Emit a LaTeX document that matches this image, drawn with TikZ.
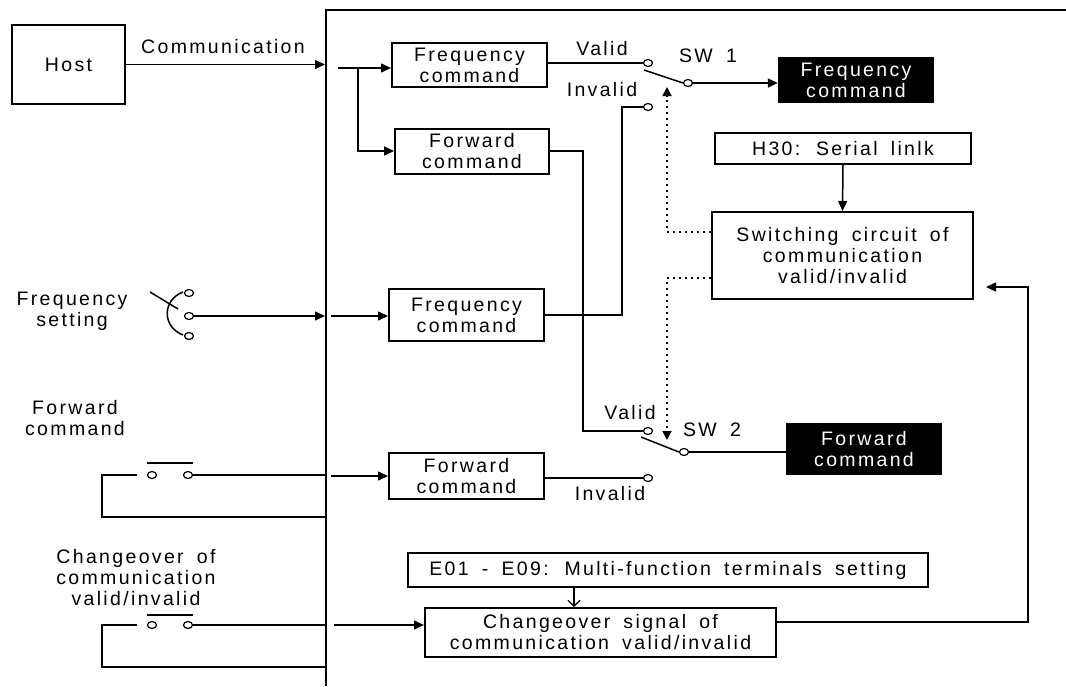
\documentclass[tikz,border=0pt]{standalone}
\usepackage{fontspec}
\setmainfont{Liberation Sans}[LetterSpace=12,WordSpace=1.7]
\usetikzlibrary{arrows.meta,shapes.geometric,calc}
\begin{document}
\begin{tikzpicture}[x=1pt,y=-1pt,
  every node/.style={font=\fontsize{19.5}{21}\selectfont},
  box/.style={draw,line width=2pt,inner sep=0pt,align=center},
  blk/.style={fill=black,text=white,inner sep=0pt,align=center},
  ln/.style={line width=1.5pt},
  arr/.style={ln,-{Triangle[length=10pt,width=9pt]}},
  dotl/.style={line width=1.7pt,dash pattern=on 2pt off 4pt},
  contact/.style={draw,ellipse,line width=1.2pt,minimum width=9pt,minimum height=7pt,inner sep=0pt,fill=white},
  lbl/.style={inner sep=0pt,align=center}
]
\useasboundingbox (0,0) rectangle (1066,686);
% frame
\draw[ln] (1066,10) -- (326,10) -- (326,686);

% boxes
\node[box,minimum width=113pt,minimum height=79pt] (host) at (68.5,64.5) {Host};
\node[box,minimum width=155pt,minimum height=44pt] (fc1) at (469.5,65) {Frequency\\command};
\node[box,minimum width=154pt,minimum height=45pt] (fw1) at (472,151) {Forward\\command};
\node[blk,minimum width=156pt,minimum height=46pt] (bfc) at (856,80) {Frequency\\command};
\node[box,minimum width=256pt,minimum height=31pt] (h30) at (843,148.5) {H30: Serial linlk};
\node[box,minimum width=261pt,minimum height=87pt] (sw) at (842.5,255.5) {Switching circuit of\\communication\\valid/invalid};
\node[box,minimum width=155pt,minimum height=52pt] (fc2) at (466.5,315) {Frequency\\command};
\node[blk,minimum width=156pt,minimum height=52pt] (bfw) at (864,449) {Forward\\command};
\node[box,minimum width=155pt,minimum height=46pt] (fw2) at (466.5,476) {Forward\\command};
\node[box,minimum width=520pt,minimum height=34pt] (e01) at (668,570) {E01 - E09: Multi-function terminals setting};
\node[box,minimum width=351pt,minimum height=49pt] (co) at (600.5,632.5) {Changeover signal of\\communication valid/invalid};

% labels
\node[lbl] (lcomm) at (223,47) {Communication};
\node[lbl] (lfs) at (72,311) {Frequency\\setting};
\node[lbl] (lfw) at (75,418) {Forward\\command};
\node[lbl] (lco) at (136,578) {Changeover of\\communication\\valid/invalid};
\node[lbl] (lv1) at (602,49) {Valid};
\node[lbl] (li1) at (602,90) {Invalid};
\node[lbl] (lsw1) at (708,56) {SW 1};
\node[lbl] (lv2) at (630,413) {Valid};
\node[lbl] (lsw2) at (712,430) {SW 2};
\node[lbl] (li2) at (610,494) {Invalid};

% Host communication
\coordinate (fin) at (325,64.5);
\draw[arr] (host.east) -- (fin);
\coordinate (cin) at (338,68);
\coordinate (br) at (358,68);
\draw[arr] (cin) -- (cin -| fc1.west);
\draw[arr] (br) |- (fw1.west);

% SW1
\node[contact] (s1v) at (648,63) {};
\node[contact] (s1i) at (648,107) {};
\node[contact] (s1c) at (688,83) {};
\draw[ln] (s1v.west -| fc1.east) -- (s1v.west);
\draw[ln] (644,70) -- (s1c.west);
\draw[arr] (s1c.east) -- (s1c.east -| bfc.west);
\coordinate (j1) at (622,107);
\draw[ln] (fc2.east) -| (j1) -- (s1i.west);

% SW2
\node[contact] (s2v) at (648,431) {};
\node[contact] (s2i) at (648,478) {};
\node[contact] (s2c) at (684,452) {};
\coordinate (j2) at (583,431);
\draw[ln] (fw1.east) -| (j2) -- (s2v.west);
\draw[ln] (641,437) -- (s2c.west);
\draw[ln] (s2c.east) -- (s2c.east -| bfw.west);
\draw[ln] (s2i.west -| fw2.east) -- (s2i.west);

% dotted control lines
\coordinate (d1) at (667,232);
\coordinate (d1t) at (667,87);
\coordinate (d2) at (667,278);
\coordinate (d2t) at (667,440);
\draw[dotl,-{Triangle[length=9pt,width=9pt]}] (d1 -| sw.west) -- (d1) -- (d1t);
\draw[dotl,-{Triangle[length=9pt,width=9pt]}] (d2 -| sw.west) -- (d2) -- (d2t);

% H30 to switching
\draw[arr] (h30.south) -- (sw.north);

% frequency setting selector
\node[contact] (fsa) at (189,293) {};
\node[contact] (fsb) at (189,316) {};
\node[contact] (fsc) at (189,336) {};
\draw[ln] (150,292) -- (178,309);
\draw[ln] (183,292) .. controls (162,300) and (162,327) .. (183,335);
\coordinate (fsin) at (325,316);
\coordinate (fsout) at (331,316);
\draw[arr] (fsb.east) -- (fsin);
\draw[arr] (fsout) -- (fsout -| fc2.west);

% forward command switch
\node[contact] (fa) at (152,475) {};
\node[contact] (fb) at (188,475) {};
\draw[ln] (147,463) -- (193,463);
\coordinate (fl) at (137,475);
\coordinate (fl2) at (102,517);
\coordinate (fr) at (326,475);
\coordinate (fr2) at (326,517);
\draw[ln] (fl) -| (fl2) -- (fr2);
\draw[ln] (fb.east) -- (fr);
\coordinate (fwin) at (331,476);
\draw[arr] (fwin) -- (fw2.west);

% changeover switch
\node[contact] (ca) at (152,625) {};
\node[contact] (cb) at (188,625) {};
\draw[ln] (147,615) -- (193,615);
\coordinate (cl) at (137,625);
\coordinate (cl2) at (102,667);
\coordinate (cr) at (326,625);
\coordinate (cr2) at (326,667);
\draw[ln] (cl) -| (cl2) -- (cr2);
\draw[ln] (cb.east) -- (cr);
\coordinate (coin) at (334,625);
\draw[arr] (coin) -- (coin -| co.west);

% E01 to changeover
\coordinate (eo) at (574,587);
\draw[line width=1.1pt,-{Straight Barb[length=6pt,width=12pt]}] (eo) -- (eo |- co.north);

% changeover to switching
\coordinate (coout) at (776,622);
\coordinate (r1) at (1028,622);
\coordinate (r2) at (1028,287);
\coordinate (swin) at (986,287);
\draw[arr] (coout) -- (r1) -- (r2) -- (swin);
\end{tikzpicture}
\end{document}
